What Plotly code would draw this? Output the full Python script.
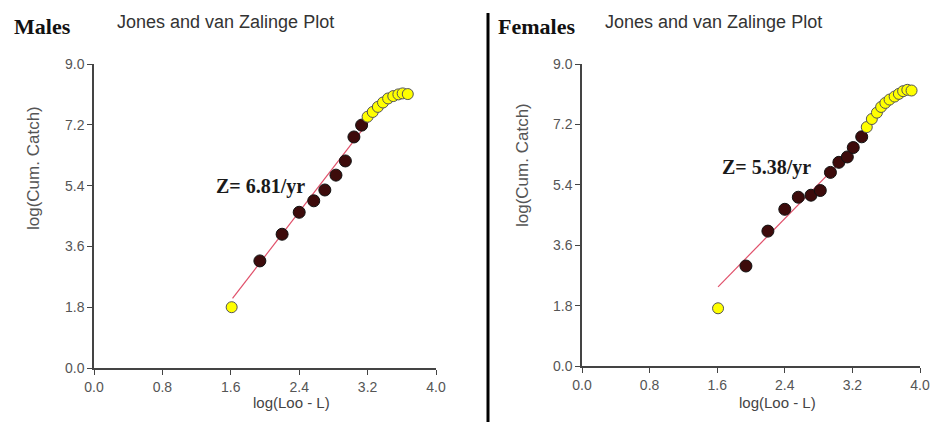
import plotly.graph_objects as go

W, H = 947, 422
OFF = 8  # page body margin offset

# ---------------- data ----------------
male_used_x = [1.94, 2.20, 2.40, 2.57, 2.70, 2.83, 2.94, 3.04, 3.13]
male_used_y = [3.17, 3.96, 4.61, 4.95, 5.27, 5.71, 6.13, 6.84, 7.19]
male_excl_x = [1.61, 3.20, 3.26, 3.32, 3.38, 3.44, 3.50, 3.56, 3.61, 3.67]
male_excl_y = [1.80, 7.44, 7.58, 7.73, 7.86, 7.98, 8.05, 8.10, 8.13, 8.11]
male_fit_x = [1.62, 3.21]
male_fit_y = [2.06, 7.29]
male_label = "Z= 6.81/yr"

female_used_x = [1.94, 2.20, 2.40, 2.56, 2.71, 2.82, 2.94, 3.04, 3.14, 3.21, 3.31]
female_used_y = [2.98, 4.02, 4.67, 5.03, 5.09, 5.23, 5.77, 6.07, 6.23, 6.51, 6.83]
female_excl_x = [1.61, 3.37, 3.43, 3.49, 3.54, 3.59, 3.64, 3.70, 3.75, 3.80, 3.85, 3.90]
female_excl_y = [1.72, 7.12, 7.36, 7.55, 7.72, 7.84, 7.94, 8.03, 8.11, 8.19, 8.23, 8.21]
female_fit_x = [1.61, 3.25]
female_fit_y = [2.36, 6.58]
female_label = "Z= 5.38/yr"

x_ticks = [0.0, 0.8, 1.6, 2.4, 3.2, 4.0]
y_ticks = [0.0, 1.8, 3.6, 5.4, 7.2, 9.0]
x_title = "log(Loo - L)"
y_title = "log(Cum. Catch)"
plot_title = "Jones and van Zalinge Plot"
panel_names = ["Males", "Females"]

# --------------- figure ---------------
fig = go.Figure()

def px_x(p):
    return (p - OFF) / W

def px_y(p):
    return (H - (p - OFF)) / H

RED = "#e0506a"
MAROON = "#3d0b0b"
YELLOW = "#ffff00"

panels = [
    dict(xa="x", ya="y", ux=male_used_x, uy=male_used_y, ex=male_excl_x, ey=male_excl_y,
         fx=male_fit_x, fy=male_fit_y, lab=male_label, lab_pos=(1.95, 5.36)),
    dict(xa="x2", ya="y2", ux=female_used_x, uy=female_used_y, ex=female_excl_x, ey=female_excl_y,
         fx=female_fit_x, fy=female_fit_y, lab=female_label, lab_pos=(2.18, 5.93)),
]

for p in panels:
    fig.add_trace(go.Scatter(x=p["fx"], y=p["fy"], mode="lines",
                             line=dict(color=RED, width=1.2),
                             xaxis=p["xa"], yaxis=p["ya"], showlegend=False, hoverinfo="skip"))
    fig.add_trace(go.Scatter(x=p["ux"], y=p["uy"], mode="markers",
                             marker=dict(size=12, color=MAROON, line=dict(color="#111", width=1)),
                             xaxis=p["xa"], yaxis=p["ya"], showlegend=False))
    fig.add_trace(go.Scatter(x=p["ex"], y=p["ey"], mode="markers",
                             marker=dict(size=11, color=YELLOW, line=dict(color="#555", width=1)),
                             xaxis=p["xa"], yaxis=p["ya"], showlegend=False))
    fig.add_annotation(x=p["lab_pos"][0], y=p["lab_pos"][1], xref=p["xa"], yref=p["ya"],
                       text="<b>%s</b>" % p["lab"], showarrow=False,
                       font=dict(family="Liberation Serif", size=20, color="#1a1a1a"))

axis_common = dict(range=[0, 4], tickvals=x_ticks, ticktext=["%.1f" % v for v in x_ticks],
                   showgrid=False, zeroline=False, showline=True, linecolor="#444", linewidth=1.5,
                   ticks="outside", ticklen=5, tickcolor="#444", automargin=False,
                   tickfont=dict(family="Liberation Sans", size=14, color="#555"))
yaxis_common = dict(range=[0, 9], tickvals=y_ticks, ticktext=["%.1f" % v for v in y_ticks],
                    showgrid=False, zeroline=False, showline=True, linecolor="#444", linewidth=1.5,
                    ticks="outside", ticklen=5, tickcolor="#444", automargin=False,
                    tickfont=dict(family="Liberation Sans", size=14, color="#555"))

fig.update_layout(
    width=W, height=H,
    margin=dict(l=0, r=0, t=0, b=0),
    paper_bgcolor="white", plot_bgcolor="white",
    xaxis=dict(axis_common, domain=[px_x(94), px_x(436)], anchor="y"),
    yaxis=dict(yaxis_common, domain=[px_y(368), px_y(64)], anchor="x"),
    xaxis2=dict(axis_common, domain=[px_x(582), px_x(920)], anchor="y2"),
    yaxis2=dict(yaxis_common, domain=[px_y(366), px_y(64)], anchor="x2"),
)

# panel headings
for name, nx, tx in [(panel_names[0], 12, 115), (panel_names[1], 496, 603)]:
    fig.add_annotation(x=px_x(nx), y=px_y(26), xref="paper", yref="paper", xanchor="left", yanchor="middle",
                       text="<b>%s</b>" % name, showarrow=False,
                       font=dict(family="Liberation Serif", size=22, color="#111"))
    fig.add_annotation(x=px_x(tx), y=px_y(22), xref="paper", yref="paper", xanchor="left", yanchor="middle",
                       text=plot_title, showarrow=False,
                       font=dict(family="Liberation Sans", size=18, color="#333"))

# axis titles
for xc, yc in [(291, 402), (777, 402)]:
    fig.add_annotation(x=px_x(xc), y=px_y(yc), xref="paper", yref="paper", xanchor="center", yanchor="middle",
                       text=x_title, showarrow=False,
                       font=dict(family="Liberation Sans", size=15, color="#444"))
for xc, yc in [(33, 168), (522, 165)]:
    fig.add_annotation(x=px_x(xc), y=px_y(yc), xref="paper", yref="paper", xanchor="center", yanchor="middle",
                       text=y_title, showarrow=False, textangle=-90,
                       font=dict(family="Liberation Sans", size=17, color="#555"))

# separator
fig.add_shape(type="line", xref="paper", yref="paper", x0=px_x(488), x1=px_x(488), y0=0, y1=px_y(13),
              line=dict(color="#000", width=3))

fig.write_html("out.html")
